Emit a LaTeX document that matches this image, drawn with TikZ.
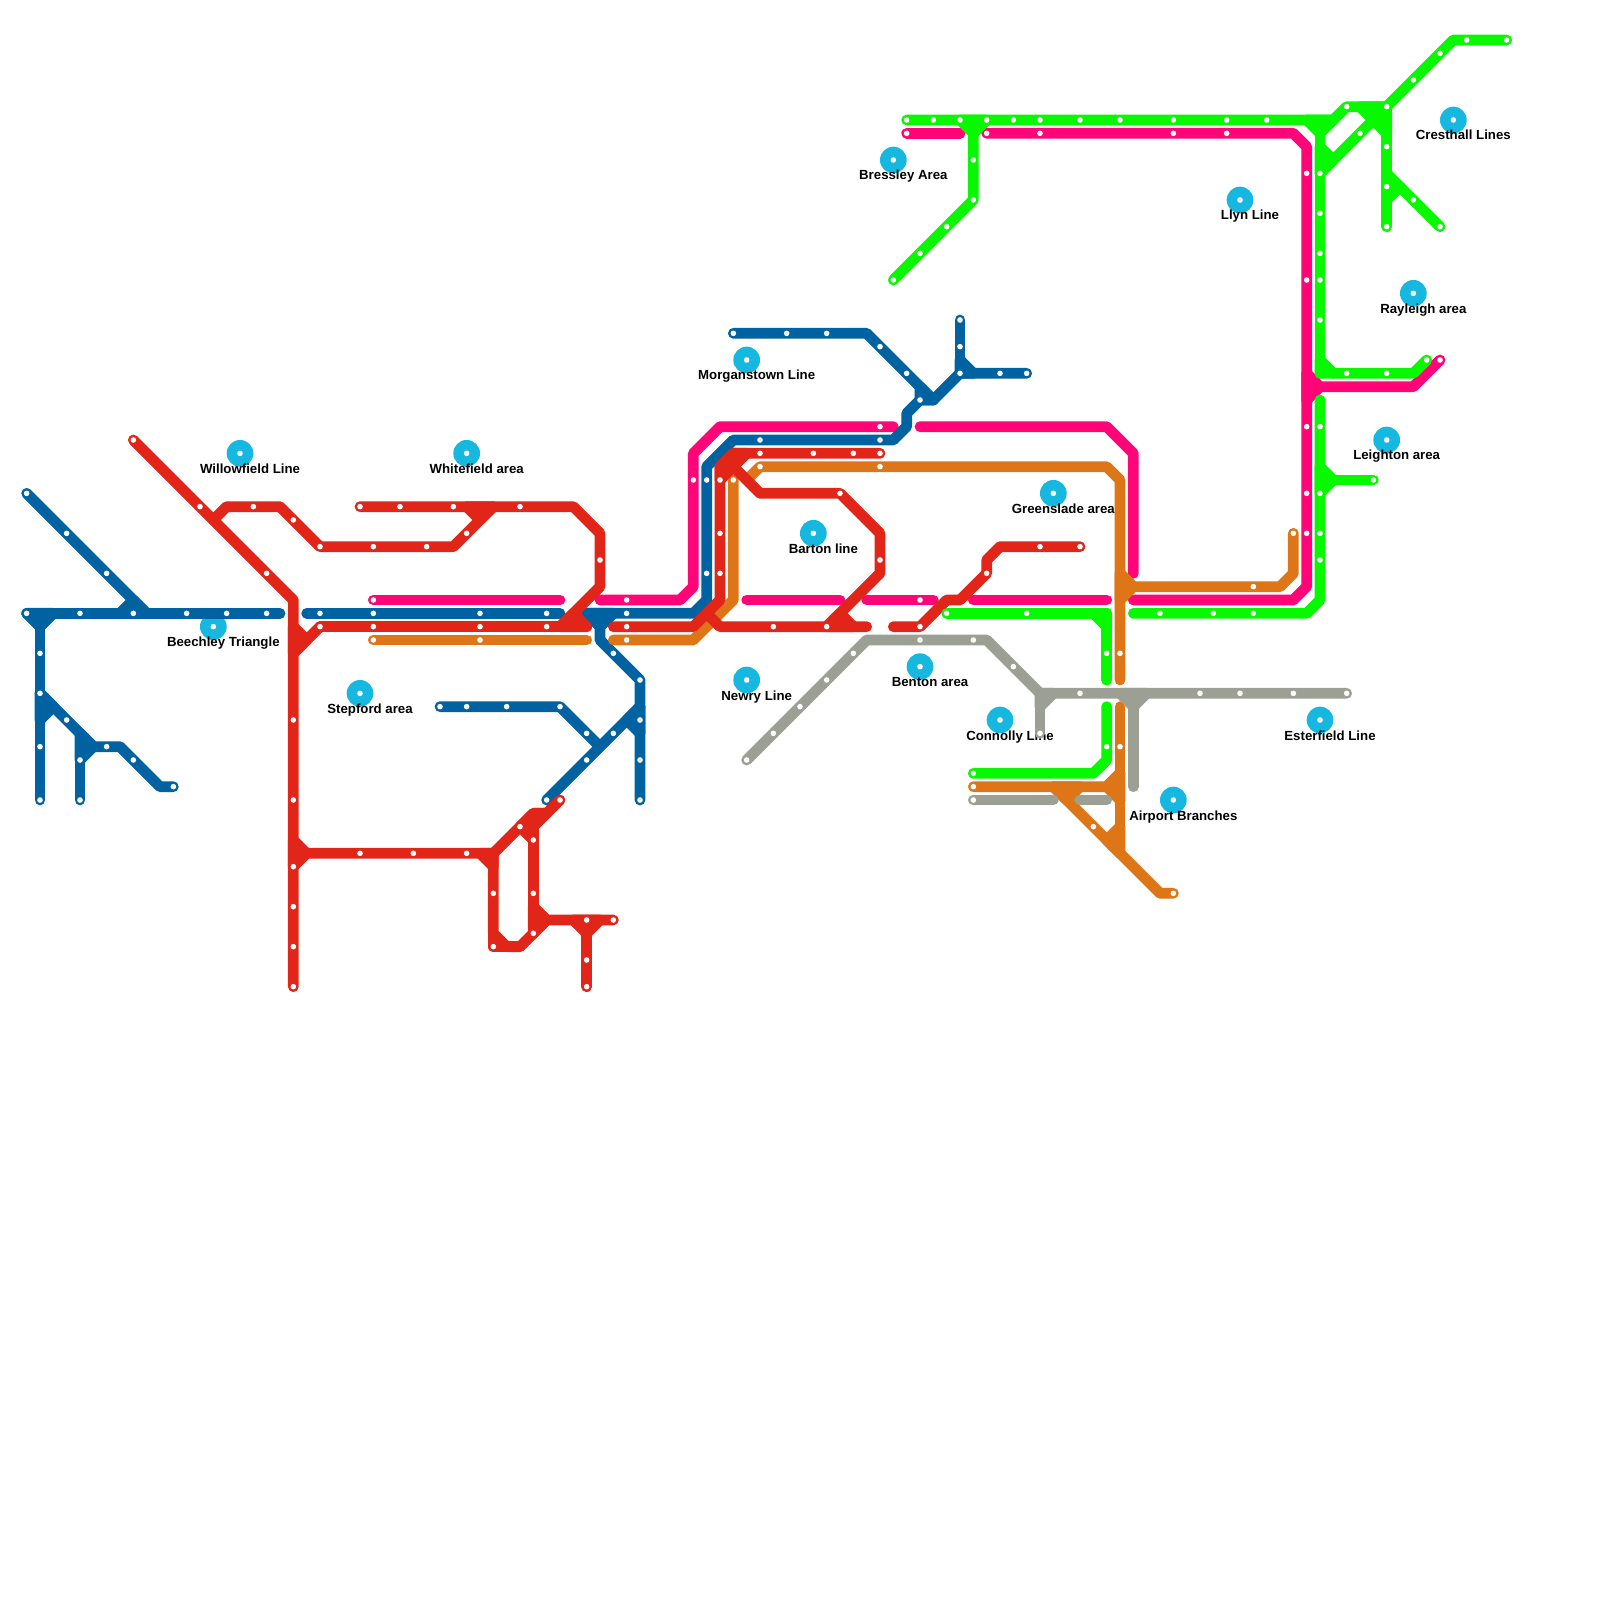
\documentclass[tikz,border=0pt]{standalone}
\usepackage{fontspec}
\setsansfont{Liberation Sans}
\usepackage{xcolor}
\definecolor{metroblue}{RGB}{0,98,160}
\definecolor{metrored}{RGB}{225,37,24}
\definecolor{metropink}{RGB}{255,5,120}
\definecolor{metroorange}{RGB}{222,118,24}
\definecolor{metrogreen}{RGB}{8,248,0}
\definecolor{metrogrey}{RGB}{156,160,148}
\definecolor{areacyan}{RGB}{22,184,224}
\tikzset{
  metro/.style={line width=4.6pt,line cap=round,line join=round},
  blueline/.style={metro,draw=metroblue},
  redline/.style={metro,draw=metrored},
  pinkline/.style={metro,draw=metropink},
  orangeline/.style={metro,draw=metroorange},
  greenline/.style={metro,draw=metrogreen},
  greyline/.style={metro,draw=metrogrey},
  bluejoin/.style={blueline,fill=metroblue},
  redjoin/.style={redline,fill=metrored},
  pinkjoin/.style={pinkline,fill=metropink},
  orangejoin/.style={orangeline,fill=metroorange},
  greenjoin/.style={greenline,fill=metrogreen},
  greyjoin/.style={greyline,fill=metrogrey},
  areadot/.style={fill=areacyan},
  arealabel/.style={anchor=base,font=\fontsize{5.65}{6.5}\selectfont\sffamily\bfseries,text=black,inner sep=0pt},
}
\begin{document}
\begin{tikzpicture}[x=0.2cm,y=-0.2cm]
  \useasboundingbox (0,0) rectangle (120,120);

  % --- area markers and their names ---
  \foreach \x/\y/\lbl/\nm in {18/34/Willowfield Line/willowfield, 35/34/Whitefield area/whitefield,
    16/47/Beechley Triangle/beechley, 27/52/Stepford area/stepford, 56/27/Morganstown Line/morganstown,
    61/40/Barton line/barton, 56/51/Newry Line/newry, 69/50/Benton area/benton,
    75/54/Connolly Line/connolly, 79/37/Greenslade area/greenslade, 88/60/Airport Branches/airport,
    99/54/Esterfield Line/esterfield, 104/33/Leighton area/leighton, 106/22/Rayleigh area/rayleigh,
    93/15/Llyn Line/llyn, 67/12/Bressley Area/bressley, 109/9/Cresthall Lines/cresthall}{
    \fill[areadot] (\x,\y) circle (5.7pt);
    \node[arealabel] (\nm) at (\x+0.75,\y+1.5) {\lbl};
  }

  % --- pink line ---
  \draw[pinkline] (28,45) -- (42,45);
  \draw[pinkline] (45,45) -- (51,45) -- (52,44) -- (52,34) -- (54,32) -- (67,32);
  \draw[pinkline] (56,45) -- (63,45);
  \draw[pinkline] (65,45) -- (70,45);
  \draw[pinkline] (73,45) -- (83,45);
  \draw[pinkline] (69,32) -- (83,32) -- (85,34) -- (85,43);
  \draw[pinkline] (68,10) -- (72,10);
  \draw[pinkline] (74,10) -- (97,10) -- (98,11) -- (98,44) -- (97,45) -- (85,45);
  \draw[pinkjoin] (98,28) -- (99,29) -- (98,30) -- cycle;
  \draw[pinkline] (99,29) -- (106,29) -- (108,27);

  % --- blue line, west side ---
  \draw[blueline] (2,37) -- (11,46);
  \draw[blueline] (2,46) -- (21,46);
  \draw[bluejoin] (9,46) -- (10,45) -- (11,46) -- cycle;
  \draw[bluejoin] (2,46) -- (4,46) -- (3,47) -- cycle;
  \draw[blueline] (3,47) -- (3,60);
  \draw[bluejoin] (3,52) -- (4,53) -- (3,54) -- cycle;
  \draw[blueline] (3,52) -- (7,56) -- (9,56) -- (12,59) -- (13,59);
  \draw[bluejoin] (6,55) -- (7,56) -- (6,57) -- cycle;
  \draw[blueline] (6,55) -- (6,60);

  % --- blue line, centre and east ---
  \draw[blueline] (23,46) -- (42,46);
  \draw[blueline] (44,46) -- (52,46) -- (53,45) -- (53,35) -- (55,33) -- (67,33) -- (68,32)
    -- (68,31) -- (69,30) -- (70,30) -- (72,28) -- (77,28);
  \draw[bluejoin] (44,46) -- (46,46) -- (45,47) -- cycle;
  \draw[blueline] (45,47) -- (45,48) -- (48,51) -- (48,60);
  \draw[blueline] (33,53) -- (42,53) -- (45,56);
  \draw[blueline] (41,60) -- (48,53);
  \draw[bluejoin] (48,53) -- (47,54) -- (48,55) -- cycle;
  \draw[blueline] (55,25) -- (65,25) -- (70,30);
  \draw[bluejoin] (69,29) -- (70,30) -- (69,30) -- cycle;
  \draw[blueline] (72,24) -- (72,28);
  \draw[bluejoin] (72,27) -- (73,28) -- (72,28) -- cycle;

  % --- orange line ---
  \draw[orangeline] (28,48) -- (44,48);
  \draw[orangeline] (46,48) -- (52,48) -- (55,45) -- (55,36);
  \draw[orangeline] (56,36) -- (57,35) -- (83,35) -- (84,36) -- (84,51);
  \draw[orangejoin] (84,43) -- (85,44) -- (84,45) -- cycle;
  \draw[orangeline] (85,44) -- (96,44) -- (97,43) -- (97,40);
  \draw[orangeline] (84,53) -- (84,64);
  \draw[orangeline] (73,59) -- (83,59) -- (84,58);
  \draw[orangejoin] (84,58) -- (83,59) -- (84,60) -- cycle;
  \draw[orangeline] (79,59) -- (87,67) -- (88,67);
  \draw[orangejoin] (79,59) -- (81,59) -- (80,60) -- cycle;
  \draw[orangejoin] (84,62) -- (83,63) -- (84,64) -- cycle;

  % --- red line, west side ---
  \draw[redline] (10,33) -- (22,45) -- (22,74);
  \draw[redline] (16,39) -- (17,38) -- (21,38) -- (24,41) -- (34,41) -- (37,38);
  \draw[redline] (27,38) -- (43,38) -- (45,40) -- (45,44) -- (42,47);
  \draw[redjoin] (35,38) -- (37,38) -- (36,39) -- cycle;
  \draw[redline] (24,47) -- (44,47);
  \draw[redline] (22,49) -- (24,47);
  \draw[redjoin] (22,47) -- (23,48) -- (22,49) -- cycle;
  \draw[redjoin] (42,47) -- (43,46) -- (44,47) -- cycle;

  % --- red line, south loop ---
  \draw[redjoin] (22,63) -- (23,64) -- (22,65) -- cycle;
  \draw[redline] (23,64) -- (37,64) -- (37,70) -- (38,71) -- (39,71) -- (41,69) -- (46,69);
  \draw[redline] (37,71) -- (37,70);
  \draw[redline] (37,71) -- (39,71);
  \draw[redjoin] (36,64) -- (37,64) -- (37,65) -- cycle;
  \draw[redline] (37,64) -- (40,61) -- (41,61) -- (42,60);
  \draw[redjoin] (39,62) -- (40,61) -- (41,61) -- (40,62) -- (40,63) -- cycle;
  \draw[redline] (40,62) -- (40,70);
  \draw[redjoin] (40,68) -- (41,69) -- (40,70) -- cycle;
  \draw[redjoin] (43,69) -- (45,69) -- (44,70) -- cycle;
  \draw[redline] (44,70) -- (44,74);

  % --- red line, centre and east ---
  \draw[redline] (46,47) -- (52,47) -- (54,45) -- (54,35) -- (55,34) -- (66,34);
  \draw[redjoin] (54,35) -- (55,34) -- (56,34) -- (55,35) -- (54,36) -- cycle;
  \draw[redline] (55,35) -- (57,37) -- (63,37) -- (66,40) -- (66,43) -- (62,47);
  \draw[redline] (53,46) -- (54,47) -- (65,47);
  \draw[redjoin] (62,47) -- (63,46) -- (64,47) -- cycle;
  \draw[redline] (67,47) -- (69,47) -- (71,45) -- (72,45) -- (74,43) -- (74,42) -- (75,41) -- (81,41);

  % --- green line ---
  \draw[greenline] (68,9) -- (100,9) -- (101,8) -- (104,8) -- (109,3) -- (113,3);
  \draw[greenjoin] (72,9) -- (74,9) -- (73,10) -- cycle;
  \draw[greenline] (73,10) -- (73,15) -- (67,21);
  \draw[greenjoin] (98,9) -- (100,9) -- (99,10) -- cycle;
  \draw[greenline] (99,10) -- (99,28);
  \draw[greenjoin] (99,11) -- (100,12) -- (99,13) -- cycle;
  \draw[greenline] (99,13) -- (104,8);
  \draw[greenjoin] (102,8) -- (104,8) -- (104,10) -- (103,9) -- cycle;
  \draw[greenline] (104,8) -- (104,17);
  \draw[greenjoin] (104,13) -- (105,14) -- (104,15) -- cycle;
  \draw[greenline] (105,14) -- (108,17);
  \draw[greenjoin] (99,27) -- (100,28) -- (99,28) -- cycle;
  \draw[greenline] (100,28) -- (106,28) -- (107,27);
  \draw[greenline] (99,30) -- (99,45) -- (98,46) -- (85,46);
  \draw[greenjoin] (99,35) -- (100,36) -- (99,37) -- cycle;
  \draw[greenline] (100,36) -- (103,36);
  \draw[greenline] (71,46) -- (83,46) -- (83,51);
  \draw[greenjoin] (82,46) -- (83,46) -- (83,47) -- cycle;
  \draw[greenline] (73,58) -- (82,58) -- (83,57) -- (83,53);

  % --- grey line ---
  \draw[greyline] (56,57) -- (65,48) -- (74,48) -- (78,52) -- (101,52);
  \draw[greyjoin] (78,52) -- (79,52) -- (78,53) -- cycle;
  \draw[greyline] (78,53) -- (78,55);
  \draw[greyjoin] (84,52) -- (86,52) -- (85,53) -- cycle;
  \draw[greyline] (85,53) -- (85,59);
  \draw[greyline] (73,60) -- (79,60);
  \draw[greyline] (81,60) -- (83,60);

  % --- stations ---
  \foreach \x/\y in {
    2/37,5/40,8/43,2/46,6/46,10/46,14/46,17/46,20/46,3/49,3/52,3/56,3/60,5/54,6/57,6/60,8/56,10/57,13/59,
    24/46,28/46,36/46,41/46,47/46,46/49,33/53,35/53,38/53,42/53,44/55,41/60,44/57,46/55,
    48/51,48/54,48/57,48/60,53/36,53/43,57/33,66/33,55/25,59/25,62/25,66/26,68/28,69/30,
    72/24,72/26,72/28,75/28,77/28,
    10/33,15/38,20/43,22/54,22/60,22/65,22/68,22/71,22/74,19/38,22/39,24/41,28/41,32/41,35/40,
    27/38,30/38,34/38,39/38,45/42,24/47,28/47,36/47,41/47,27/64,31/64,35/64,37/67,37/71,
    39/62,40/63,40/67,40/70,42/60,44/69,46/69,44/72,44/74,47/47,54/36,54/40,54/43,
    57/34,61/34,64/34,66/34,63/37,66/42,58/47,62/47,69/47,74/43,78/41,81/41}{
    \fill[white] (\x,\y) circle (1.2pt);
  }
  \foreach \x/\y in {
    28/45,47/45,52/36,66/32,69/45,68/10,74/10,78/10,88/10,92/10,98/13,98/21,98/32,98/37,98/40,108/27,
    28/48,36/48,47/48,55/36,57/35,66/35,84/49,84/56,94/44,97/40,73/59,82/62,88/67,
    68/9,70/9,72/9,74/9,76/9,78/9,81/9,84/9,88/9,92/9,95/9,101/8,104/8,106/6,108/4,110/3,113/3,
    102/10,99/13,99/16,99/19,99/21,99/24,104/11,104/14,104/17,106/15,108/17,101/28,104/28,107/27,
    99/32,99/37,99/40,99/42,103/36,87/46,91/46,94/46,71/46,77/46,83/49,83/56,73/58,
    73/12,73/15,71/17,69/19,67/21,
    56/57,58/55,60/53,62/51,64/49,69/48,73/48,76/50,81/52,90/52,93/52,97/52,101/52,78/55,73/60}{
    \fill[white] (\x,\y) circle (1.2pt);
  }
  \foreach \x/\y in {18/34,35/34,16/47,27/52,56/27,61/40,56/51,69/50,75/54,79/37,88/60,99/54,104/33,106/22,93/15,67/12,109/9}{
    \fill[white] (\x,\y) circle (1.2pt);
  }
\end{tikzpicture}
\end{document}
